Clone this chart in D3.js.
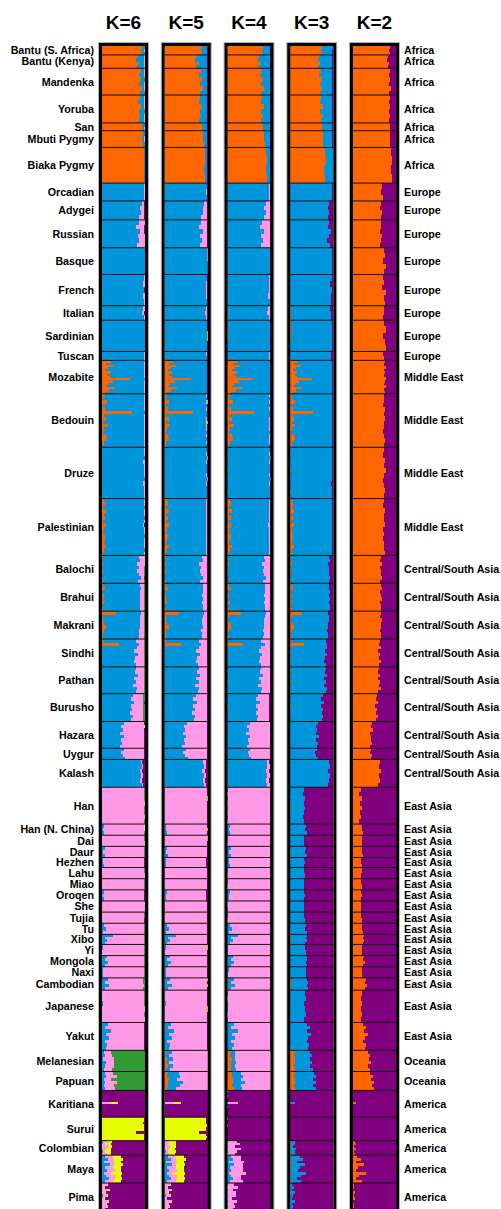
<!DOCTYPE html>
<html>
<head>
<meta charset="utf-8">
<script src="https://cdn.jsdelivr.net/npm/d3@7"></script>
<style>
  html, body { margin: 0; padding: 0; background: #fff; }
  svg { display: block; }
  text { font-family: "Liberation Sans", Arial, Helvetica, sans-serif; font-weight: bold; fill: #000; }
</style>
</head>
<body>
<svg id="chart" width="501" height="1209"></svg>
<script>
// ---- Column headings ----
const kLabels = ["K=6", "K=5", "K=4", "K=3", "K=2"];

// ---- Populations (top to bottom), their regions and sample sizes ----
const populations = [
  "Bantu (S. Africa)", "Bantu (Kenya)", "Mandenka", "Yoruba", "San", "Mbuti Pygmy", "Biaka Pygmy",
  "Orcadian", "Adygei", "Russian", "Basque", "French", "Italian", "Sardinian", "Tuscan",
  "Mozabite", "Bedouin", "Druze", "Palestinian",
  "Balochi", "Brahui", "Makrani", "Sindhi", "Pathan", "Burusho", "Hazara", "Uygur", "Kalash",
  "Han", "Han (N. China)", "Dai", "Daur", "Hezhen", "Lahu", "Miao", "Oroqen", "She", "Tujia",
  "Tu", "Xibo", "Yi", "Mongola", "Naxi", "Cambodian", "Japanese", "Yakut",
  "Melanesian", "Papuan",
  "Karitiana", "Surui", "Colombian", "Maya", "Pima"
];
const regions = [
  "Africa", "Africa", "Africa", "Africa", "Africa", "Africa", "Africa",
  "Europe", "Europe", "Europe", "Europe", "Europe", "Europe", "Europe", "Europe",
  "Middle East", "Middle East", "Middle East", "Middle East",
  "Central/South Asia", "Central/South Asia", "Central/South Asia", "Central/South Asia", "Central/South Asia",
  "Central/South Asia", "Central/South Asia", "Central/South Asia", "Central/South Asia",
  "East Asia", "East Asia", "East Asia", "East Asia", "East Asia", "East Asia", "East Asia", "East Asia", "East Asia", "East Asia",
  "East Asia", "East Asia", "East Asia", "East Asia", "East Asia", "East Asia", "East Asia", "East Asia",
  "Oceania", "Oceania",
  "America", "America", "America", "America", "America"
];
const sampleSizes = [
  8, 12, 24, 25, 7, 15, 32,
  16, 17, 25, 24, 28, 13, 28, 8,
  30, 48, 46, 51,
  25, 25, 25, 25, 24, 25, 24, 10, 25,
  33, 10, 10, 10, 9, 10, 10, 10, 10, 10,
  10, 9, 10, 10, 10, 11, 29, 25,
  19, 17,
  24, 21, 13, 25, 25
];

// ---- Cluster colours, in stacking order (left to right) ----
const ORANGE = "#ff6600", BLUE = "#0096dc", PINK = "#ff99e6",
      GREEN = "#339933", YELLOW = "#e5ff00", PURPLE = "#800080";
const k6Colors = [ORANGE, BLUE, PINK, GREEN, YELLOW, PURPLE];
const k5Colors = [ORANGE, BLUE, PINK, YELLOW, PURPLE];
const k4Colors = [ORANGE, BLUE, PINK, PURPLE];
const k3Colors = [ORANGE, BLUE, PURPLE];
const k2Colors = [ORANGE, PURPLE];

// ---- Ancestry rows (percent). Each row lists every cluster but the last;
//      the last cluster takes the remainder. Rows split a population evenly. ----
const k6Rows = [
  [[93,6,0.5,0,0],[91,7,1,0,0],[94,5,0.5,0,0]],
  [[84,14,1,0,0],[80,18,1,0,0],[87,11,1,0,0],[82,16,1,0,0]],
  [[90,8,1,0,0],[86,12,1,0,0],[91,6,1,1,0],[87,11,1,0,0],[92,6,1,0,0],[88,10,0,1,0]],
  [[88,10,1,0,0],[84,14,1,0,0],[90,8,1,0,0],[86,12,0,1,0],[89,9,1,0,0],[85,13,1,0,0]],
  [[92,5,1,1,0],[93,5,1,0,0]],
  [[95,4,0,0,0],[94,4,1,0,0],[96,3,0,0,0]],
  [[97,2,0,1,0],[98,1,0,0,0],[97,2,1,0,0],[98,1,0,0,0]],
  [[0,98,1,0,0],[0,97,2,0,0],[0,98,1,0,0]],
  [[0,92,6,0,0],[0,88,10,0,0],[0,90,8,0,0],[0,86,12,0,0]],
  [[0,85,14,0,0],[0,80,18,0,0],[0,88,10,0,0],[0,83,16,0,0],[0,87,12,0,0],[0,82,17,0,0]],
  [[0,99,0.5,0,0],[0,99.5,0,0,0]],
  [[0,98,1,0,0],[0,96,3,0,0],[0,97,1,0,0],[0,95,4,0,0],[0,98,1,0,0]],
  [[1,95,3,0,0],[0,93,5,0,0],[1,96,2,0,0]],
  [[1,98,0,0,0],[1,98,0,0,0.5],[0,99,0,0,0]],
  [[0,97,2,0,0],[0,98,1,0,0]],
  [[22,76,1,0,0],[10,88,1,0,0],[28,70,1,0,0],[15,83,1,0,0],[8,90,1,0,0],[20,78,1,0,0],[12,86,1,0,0],[18,80,1,0,0],
   [65,34,0,0,0],[25,73,1,0,0],[14,84,1,0,0],[9,89,1,0,0],[30,68,1,0,0],[16,82,1,0,0],[6,92,1,0,0]],
  [[6,91,2,0,0],[3,95,1,0,0],[12,85,2,0,0.5],[2,96,1,0,0],[8,89,2,0,0],[70,29,0,0,0],[4,94,1,0,0],[10,87,2,0,0],
   [3,94,2,0,0.5],[14,83,2,0,0],[5,92,2,0,0],[2,96,1,0,0],[9,88,2,0,0],[12,86,1,0,0],[4,93,2,0,0],[3,95,1,0,0]],
  [[0,98,1,0,0],[1,96,2,0,0],[0,99,0.5,0,0],[0,96,3,0,0],[0,98,1,0,0],[1,97,1,0,0],
   [0,97,2,0,0],[0,99,0.5,0,0],[0,96,3,0,0],[0,98,1,0,0],[1,97,1,0,0],[0,98,1,0,0]],
  [[5,92,2,0,0],[8,89,2,0,0],[3,94,1,1,0],[10,87,2,0,0],[4,93,2,0,0],[7,90,1,1,0],[2,95,2,0,0],[9,87,2,0,0.5],
   [5,92,2,0,0],[3,94,2,0,0],[8,89,1,1,0],[6,91,2,0,0],[4,93,2,0,0],[10,87,2,0,0],[5,92,1,1,0],[3,94,2,0,0]],
  [[2,85,12,0,0],[1,88,10,0,0],[3,78,18,0,0],[0,86,12,1,0],[2,80,16,1,0],[1,84,13,1,0],[0,90,8,0,0],[2,82,14,1,0]],
  [[3,86,9,1,0],[8,82,8,1,0],[1,88,9,1,0],[4,84,10,1,0],[2,86,10,1,0],[5,83,10,1,0],[1,87,10,1,0],[3,85,9,2,0]],
  [[33,58,7,1,0],[3,86,9,1,0],[2,87,9,1,0],[5,83,10,1,0],[9,80,9,1,0],[4,82,12,1,0],[2,85,11,1,0],[3,84,11,1,0]],
  [[2,78,17,2,0],[40,45,13,1,0],[1,80,16,2,0],[0,75,22,2,0],[1,82,14,2,0],[0,77,20,2,0],[1,73,23,2,0],[0,79,18,2,0]],
  [[0,80,17,2,0],[1,76,20,2,0],[0,83,14,2,0],[0,74,23,2,0],[1,79,17,2,0],[0,72,25,2,0],[0,81,16,2,0],[1,77,19,2,0]],
  [[0,72,24,3,0],[0,68,28,3,0],[0,75,21,2,0],[1,66,29,3,0],[0,70,26,3,0],[0,64,32,3,0],[0,71,25,3,0],[0,67,29,3,0]],
  [[0,52,45,1,0],[0,45,52,1,1],[0,48,49,1,0],[0,42,55,1,0],[0,50,47,1,0],[0,44,53,1,0],[0,47,50,1,0],[0,41,56,1,0]],
  [[0,50,47,1,0],[0,44,53,1,0],[0,48,49,1,0],[0,53,44,1,0]],
  [[0,90,4,0,0],[0,93,3,0,0],[0,88,5,0,0],[0,91,4,0,0],[0,89,3,0,0],[0,92,4,0,0]],
  [[0,1,97,1,0],[0,0,98,1,0],[0,1,97,1,0.5],[0,0,99,0,0],[0,1,97,1,0],[0,0,98,1,0],[0,1,98,0,0],[0,0,97,2,0]],
  [[0,4,93,1,1],[0,2,96,0,1],[0,5,93,1,0]],
  [[0,0,98,2,0],[0,1,98,1,0]],
  [[0,6,92,1,0],[0,3,95,1,0],[0,8,90,1,0]],
  [[0,3,94,0,0],[0,2,95,1,0],[0,4,93,0,0]],
  [[0,0,98,2,0],[0,1,98,1,0]],
  [[0,1,97,1,1],[0,0,98,1,0]],
  [[0,5,92,0,0],[0,3,94,1,0],[0,4,93,0,0]],
  [[0,0,99,1,0],[0,1,98,1,0]],
  [[0,1,97,1,0],[0,0,98,0,0]],
  [[0,5,93,1,0],[0,9,89,1,0],[0,3,95,1,0]],
  [[0,25,73,1,0],[0,8,90,1,0],[0,12,86,1,0],[0,6,92,1,0]],
  [[0,2,96,2,0],[0,1,97,1,0]],
  [[0,12,86,1,0],[0,6,92,1,0],[0,15,83,1,0],[0,8,90,1,0]],
  [[0,3,95,1,0],[0,2,96,1,0]],
  [[1,12,83,3,1],[0,6,90,3,0],[1,16,80,2,1],[0,8,88,3,0]],
  [[0,1,97,1,0],[0,0,98,1,0],[0,2,96,1,0],[0,1,98,0,0],[0,0,97,2,0],[0,1,98,0,0]],
  [[0,14,84,0,0],[0,8,90,0,0],[0,20,78,0,0],[0,10,88,0,0],[0,16,82,0,0],[0,6,92,0,0],[0,12,86,0,0],[0,9,89,0,0]],
  [[0,4,18,77,0],[0,8,15,76,0],[0,3,25,71,0],[0,10,18,71,0],[0,6,22,71,0],[0,4,20,75,0]],
  [[0,6,20,73,0],[0,10,25,64,0],[0,4,18,77,0],[0,8,28,63,0],[0,5,22,72,0],[0,7,24,68,0]],
  [[0,0,1,0,0],[0,0,0,0,0],[0,0,0.5,0,0],[0,0,0,0,0],[0,0,0,0,0],[0,0,19,0,19],
   [0,0,0,0,0],[0,0,0.5,0,0],[0,0,0,0,0],[0,0,0,0,0],[0,0,0,0,0],[0,0,0,0,0]],
  [[0,0,0,0,97],[0,0,0,0,98],[0,0,0,0,96],[0,0,0,0,98],[0,0,0,0,97],[0,0,0,0,98],[0,0,0,0,80],[0,0,0,0,97],[0,0,0,0,98],[0,0,0,0,97]],
  [[0,2,12,0,10],[0,0,8,0,14],[0,1,15,0,8],[0,0,10,0,12],[0,2,6,0,14],[0,0,12,0,10]],
  [[0,8,18,0,18],[0,15,12,0,22],[0,4,25,0,15],[0,18,10,0,20],[0,6,20,0,18],[0,12,18,0,14],[0,5,15,0,26],[0,10,22,0,12],[0,16,14,0,16],[0,6,20,0,18]],
  [[0,0,12,0,2],[0,1,6,0,1],[0,0,15,0,3],[0,0,8,0,1],[0,2,10,0,2],[0,0,5,0,1],[0,0,14,0,2],[0,1,9,0,1],[0,0,11,0,2],[0,0,7,0,1]]
];

const k5Rows = [
  [[87,11,1,0],[84,14,1,0],[86,12,1,0]],
  [[76,22,1,0],[70,28,1,0],[79,19,1,0],[73,25,1,0]],
  [[84,14,1,0],[80,18,1,0],[86,12,1,0],[82,16,1,0],[88,10,1,0],[81,17,1,0]],
  [[83,15,1,0],[79,19,1,0],[86,12,1,0],[81,17,1,0],[85,13,1,0],[80,18,1,0]],
  [[87,11,1,0],[86,12,1,0]],
  [[90,9,0,0],[89,9,1,0],[91,8,0,0]],
  [[93,6,0,0],[94,5,0,0],[92,7,0,0],[94,5,0,0]],
  [[0,98,1,0],[0,97,2,0],[0,98,1,0]],
  [[0,91,7,0],[0,88,10,0],[0,90,8,0],[0,85,13,0]],
  [[0,84,15,0],[0,80,18,0],[0,88,10,0],[0,82,17,0],[0,87,12,0],[0,81,18,0]],
  [[0,99,0.5,0],[0,99.5,0,0]],
  [[0,98,1,0],[0,96,3,0],[0,97,1,0],[0,95,4,0],[0,98,1,0]],
  [[1,95,3,0],[0,93,5,0],[1,96,2,0]],
  [[1,98,0,0],[1,98,0,0.5],[0,99,0,0]],
  [[0,97,2,0],[0,98,1,0]],
  [[20,78,1,0],[9,89,1,0],[26,72,1,0],[14,84,1,0],[7,91,1,0],[18,80,1,0],[11,87,1,0],[17,81,1,0],
   [62,37,0,0],[23,75,1,0],[13,85,1,0],[8,90,1,0],[28,70,1,0],[15,83,1,0],[5,93,1,0]],
  [[5,92,2,0],[3,95,1,0],[11,86,2,0.5],[2,96,1,0],[7,90,2,0],[65,34,0,0],[4,94,1,0],[9,88,2,0],
   [3,94,2,0.5],[13,84,2,0],[5,92,2,0],[2,96,1,0],[8,89,2,0],[11,87,1,0],[4,93,2,0],[3,95,1,0]],
  [[0,98,1,0],[1,96,2,0],[0,99,0.5,0],[0,96,3,0],[0,98,1,0],[1,97,1,0],
   [0,97,2,0],[0,99,0.5,0],[0,96,3,0],[0,98,1,0],[1,97,1,0],[0,98,1,0]],
  [[5,92,2,0],[8,89,2,0],[3,94,2,0],[10,87,2,0],[4,93,2,0],[7,90,2,0],[2,95,2,0],[9,87,2,0.5],
   [5,92,2,0],[3,94,2,0],[8,89,2,0],[6,91,2,0],[4,93,2,0],[10,87,2,0],[5,92,2,0],[3,94,2,0]],
  [[2,84,13,0],[1,87,11,0],[3,76,20,0],[0,85,13,0],[2,80,17,0],[1,84,14,0],[0,90,9,0],[2,81,16,0]],
  [[3,85,11,0],[8,81,10,0],[1,87,11,0],[4,83,12,0],[2,86,11,0],[5,82,12,0],[1,87,11,0],[3,85,11,0]],
  [[32,59,8,0],[3,85,11,0],[2,85,12,0],[5,81,13,0],[9,79,11,0],[4,80,15,0],[2,84,13,0],[3,83,13,0]],
  [[2,77,19,1],[38,47,14,0],[1,79,19,0],[0,73,25,1],[1,81,17,0],[0,75,23,1],[1,72,26,0],[0,78,20,1]],
  [[0,79,19,1],[1,75,22,1],[0,82,16,1],[0,73,25,1],[1,78,19,1],[0,71,27,1],[0,80,18,1],[1,76,21,1]],
  [[0,72,26,0],[0,66,32,0],[0,76,22,0],[1,64,33,0],[0,70,28,0],[0,63,35,0],[0,71,27,0],[0,67,31,0]],
  [[0,52,46,0.5],[0,45,53,1],[0,48,50,0.5],[0,42,56,0.5],[0,50,48,0.5],[0,44,54,0.5],[0,47,51,0.5],[0,41,57,0.5]],
  [[0,50,48,0],[0,43,55,0],[0,47,51,0],[0,53,45,0]],
  [[0,90,5,0],[0,92,4,0],[0,87,6,0],[0,91,4,0],[0,89,4,0],[0,92,4,0]],
  [[0,1,98,0],[0,0,99,0],[0,1,98,0.5],[0,0,99,0],[0,1,98,0],[0,0,99,0],[0,1,98,0],[0,0,98,0]],
  [[0,4,94,1],[0,2,97,0.5],[0,5,94,0]],
  [[0,0,99,0.5],[0,1,98,0]],
  [[0,6,93,0],[0,3,96,0],[0,8,91,0]],
  [[0,3,94,0],[0,2,95,0],[0,4,93,0]],
  [[0,0,99,0],[0,1,98,0]],
  [[0,1,97,1],[0,0,99,0]],
  [[0,5,92,0],[0,3,94,0],[0,4,93,0]],
  [[0,0,99,0],[0,1,98,0]],
  [[0,1,97,0],[0,0,99,0]],
  [[0,5,94,0],[0,9,90,0],[0,3,96,0]],
  [[0,25,74,0],[0,8,91,0],[0,12,87,0],[0,6,93,0]],
  [[0,2,97,0.5],[0,1,98,0]],
  [[0,12,87,0],[0,6,93,0],[0,15,84,0],[0,8,91,0]],
  [[0,3,96,0],[0,2,97,0]],
  [[1,12,86,0.5],[0,6,93,0],[1,16,82,0.5],[0,8,91,0]],
  [[0,1,98,0],[0,0,99,0],[0,2,97,0],[0,1,98,0.5],[0,0,99,0],[0,1,98,0]],
  [[0,15,84,0],[0,8,91,0],[0,22,77,0],[0,10,89,0],[0,17,82,0],[0,6,93,0],[0,13,86,0],[0,9,90,0]],
  [[4,12,84,0],[0,10,90,0],[6,14,80,0],[2,8,90,0],[8,12,80,0],[3,10,87,0]],
  [[8,25,67,0],[6,30,64,0],[9,20,71,0],[7,35,58,0],[8,28,64,0],[5,22,73,0]],
  [[0,0,1,0],[0,0,0,0],[0,0,0.5,0],[0,0,0,0],[0,0,0,0],[0,0,19,19],
   [0,0,0,0],[0,0,0.5,0],[0,0,0,0],[0,0,0,0],[0,0,0,0],[0,0,0,0]],
  [[0,0,0,96],[0,0,0,97],[0,0,0,96],[0,0,0,98],[0,0,0,97],[0,0,0,97],[0,0,0,80],[0,0,0,96],[0,0,0,98],[0,0,0,97]],
  [[0,1,10,14],[0,0,8,18],[0,1,12,12],[0,0,9,15],[0,2,6,18],[0,0,10,13]],
  [[0,7,17,20],[0,14,11,24],[0,4,24,17],[0,16,10,22],[0,6,19,19],[0,11,17,16],[0,5,14,27],[0,9,21,14],[0,15,13,18],[0,6,19,20]],
  [[0,0,12,2],[0,1,6,1],[0,0,15,3],[0,0,8,1],[0,2,10,2],[0,0,5,1],[0,0,14,2],[0,1,9,1],[0,0,11,2],[0,0,7,1]]
];

const k4Rows = [
  [[83,15,1],[80,18,1],[82,16,1]],
  [[74,24,1],[70,28,1],[77,21,1],[72,26,1]],
  [[80,18,1],[76,22,1],[83,15,1],[78,20,1],[85,13,1],[77,21,1]],
  [[80,18,1],[78,20,1],[84,14,1],[79,19,1],[83,15,1],[78,20,1]],
  [[82,16,1],[83,15,1]],
  [[86,13,0.5],[85,13,1],[87,12,0.5]],
  [[90,9,0.5],[91,8,0.5],[89,10,0.5],[91,8,0.5]],
  [[0,97,2],[0,96,3],[0,97,2]],
  [[0,90,8],[0,86,12],[0,89,9],[0,85,13]],
  [[0,80,18],[0,76,22],[0,85,13],[0,78,20],[0,83,15],[0,77,21]],
  [[0,99,0.5],[0,99.5,0]],
  [[0,97,2],[0,96,3],[0,97,2],[0,95,4],[0,98,1]],
  [[1,94,4],[0,93,6],[1,95,3]],
  [[1,98,0.5],[1,98,0.5],[0,99,0.5]],
  [[0,96,3],[0,97,2]],
  [[24,74,1],[12,86,1],[30,68,1],[18,80,1],[10,88,1],[22,76,1],[14,84,1],[20,78,1],
   [60,39,0.5],[27,71,1],[16,82,1],[11,87,1],[33,65,1],[19,79,1],[8,90,1]],
  [[6,91,2],[4,94,1],[13,84,2],[3,95,1],[8,89,2],[62,37,0.5],[5,93,1],[11,86,2],
   [4,93,2],[15,82,2],[6,91,2],[3,95,1],[10,87,2],[13,84,2],[5,92,2],[4,94,1]],
  [[0,98,1.5],[1,96,2],[0,99,1],[0,96,3],[0,98,1.5],[1,97,1.5],
   [0,97,2],[0,99,1],[0,96,3],[0,98,1.5],[1,97,1.5],[0,98,1.5]],
  [[5,91,3],[8,88,3],[3,93,3],[10,86,3],[4,92,3],[7,89,3],[2,94,3],[9,86,4],
   [5,91,3],[3,93,3],[8,88,3],[6,90,3],[4,92,3],[10,86,3],[5,91,3],[3,93,3]],
  [[2,84,13],[1,86,12],[3,78,17],[0,85,14],[2,80,16],[1,83,15],[0,89,10],[2,81,16]],
  [[3,84,12],[8,80,11],[1,86,12],[4,82,13],[2,85,12],[5,81,13],[1,86,12],[3,84,12]],
  [[31,58,10],[3,84,12],[2,84,13],[5,80,14],[9,76,14],[4,79,16],[2,82,15],[3,80,16]],
  [[2,76,20],[37,50,12],[1,78,19],[0,74,24],[1,80,17],[0,76,22],[1,72,25],[0,78,20]],
  [[0,79,19],[1,75,22],[0,82,16],[0,74,24],[1,78,19],[0,72,26],[0,80,18],[1,76,21]],
  [[0,71,26],[0,67,30],[0,75,22],[1,65,31],[0,70,27],[0,66,31],[0,72,25],[0,68,29]],
  [[0,53,45],[0,46,52],[0,50,48],[0,44,54],[0,52,46],[0,47,51],[0,49,49],[0,45,53]],
  [[0,52,46],[0,47,51],[0,50,48],[0,54,44]],
  [[0,91,6],[0,93,5],[0,89,8],[0,92,6],[0,90,7],[0,93,5]],
  [[0,1,98],[0,0,99],[0,1,98],[0,0,99],[0,1,98],[0,0,99],[0,1,98],[0,0,99]],
  [[0,5,94],[0,3,96],[0,6,93]],
  [[0,1,98],[0,0,99]],
  [[0,7,92],[0,4,95],[0,9,90]],
  [[0,4,94],[0,3,95],[0,5,93]],
  [[0,1,98],[0,0,99]],
  [[0,1,98],[0,0,99]],
  [[0,5,93],[0,3,95],[0,4,94]],
  [[0,0,99],[0,1,98]],
  [[0,1,98],[0,0,99]],
  [[0,6,93],[0,10,89],[0,4,95]],
  [[0,25,74],[0,8,91],[0,13,86],[0,6,93]],
  [[0,2,97],[0,1,98]],
  [[0,13,86],[0,7,92],[0,16,83],[0,9,90]],
  [[0,3,96],[0,2,97]],
  [[1,13,85],[0,7,92],[1,17,81],[0,9,90]],
  [[0,1,98],[0,0,99],[0,2,97],[0,1,98],[0,0,99],[0,1,98]],
  [[0,16,83],[0,9,90],[0,24,75],[0,11,88],[0,18,81],[0,7,92],[0,14,85],[0,10,89]],
  [[8,10,82],[6,12,82],[10,8,82],[7,13,80],[9,9,82],[8,11,81]],
  [[11,20,69],[10,25,65],[13,18,69],[12,28,60],[10,22,68],[14,20,66]],
  [[0,0,1],[0,0,0],[0,0,0.5],[0,0,0],[0,0,0],[0,0,24],[0,0,0],[0,0,0.5],[0,0,0],[0,0,0],[0,0,0],[0,0,0]],
  [[0,0,0.5],[0,0,0],[0,0,0],[0,0,0.5],[0,0,0],[0,0,0],[0,0,0],[0,0,0],[0,0,0],[0,0,0]],
  [[0,1,20],[0,0,28],[0,2,15],[0,0,32],[0,1,22],[0,0,18]],
  [[1,6,25],[0,12,20],[0,4,35],[0,14,22],[0,5,30],[1,8,28],[0,4,40],[0,7,25],[0,12,20],[0,5,32]],
  [[0,1,15],[0,0,25],[0,1,12],[0,0,20],[0,2,18],[0,0,10],[0,1,22],[0,0,14],[0,1,17],[0,0,12]]
];

const k3Rows = [
  [[74,25],[71,27],[73,25]],
  [[67,31],[64,34],[69,29],[65,33]],
  [[71,27],[68,30],[73,25],[69,29],[74,24],[70,28]],
  [[72,26],[69,29],[75,23],[70,28],[76,22],[71,27]],
  [[73,25],[74,24]],
  [[76,22],[75,23],[77,21]],
  [[80,19],[82,17],[79,20],[81,18]],
  [[0,97],[0,96],[0,97]],
  [[0,90],[0,87],[0,91],[0,88]],
  [[0,91],[0,88],[0,94],[0,90],[0,86],[0,93]],
  [[0,97],[0,96],[0,98]],
  [[0,96],[0,93],[0,97],[0,95],[0,94]],
  [[1,92],[0,94],[1,93]],
  [[1,96],[1,97],[0,96]],
  [[0,94],[0,95]],
  [[18,79],[9,88],[24,73],[13,84],[7,90],[16,81],[10,87],[15,82],[50,48],[21,76],[12,85],[8,89],[26,71],[14,83],[6,91]],
  [[5,91],[3,94],[10,86],[2,95],[7,89],[52,46],[4,93],[9,87],[3,93],[12,84],[5,91],[2,95],[8,88],[10,86],[4,92],[3,94]],
  [[0,97],[1,95],[0,98],[0,96],[0,97],[1,96],[0,96],[0,98],[0,95],[0,97],[1,96],[0,97]],
  [[5,91],[7,89],[3,93],[9,87],[4,92],[6,90],[2,94],[8,88],[5,91],[3,93],[7,89],[5,91],[4,92],[9,87],[5,91],[3,93]],
  [[2,89],[1,92],[3,85],[0,91],[2,87],[1,90],[0,93],[2,88]],
  [[3,88],[7,84],[1,91],[4,87],[2,90],[5,86],[1,92],[3,89]],
  [[28,60],[3,86],[2,87],[5,83],[8,80],[4,82],[2,86],[3,84]],
  [[2,82],[33,52],[1,84],[0,80],[1,85],[0,81],[1,78],[0,83]],
  [[0,84],[1,80],[0,86],[0,79],[1,83],[0,78],[0,85],[1,81]],
  [[0,76],[0,72],[0,78],[1,71],[0,75],[0,73],[0,77],[0,74]],
  [[0,65],[0,60],[0,63],[0,59],[0,66],[0,61],[0,64],[0,62]],
  [[0,62],[0,58],[0,61],[0,64]],
  [[0,91],[0,93],[0,88],[0,92],[0,90],[0,87]],
  [[0,33],[0,30],[0,35],[0,31],[1,34],[0,32],[0,29],[0,33]],
  [[0,37],[0,34],[0,38]],
  [[0,33],[0,31]],
  [[0,37],[0,35],[1,39]],
  [[0,33],[0,35],[0,32]],
  [[0,33],[0,35]],
  [[0,33],[0,31]],
  [[0,33],[0,34],[0,32]],
  [[0,32],[0,31]],
  [[0,33],[0,34]],
  [[0,37],[0,35],[0,38]],
  [[1,38],[0,36],[1,37],[0,35]],
  [[0,35],[0,36]],
  [[0,38],[0,40],[0,36],[0,38]],
  [[0,36],[0,37]],
  [[2,38],[1,40],[2,36],[1,41]],
  [[0,34],[0,36],[0,33],[0,35],[0,37],[0,33]],
  [[0,40],[0,45],[0,38],[0,48],[0,42],[0,39],[0,44],[0,41]],
  [[10,36],[9,42],[11,34],[10,40],[9,38],[10,44]],
  [[10,46],[9,52],[11,42],[10,50],[9,44],[12,48]],
  [[0,0.5],[0,0],[0,0],[0,0],[0,0],[0,12],[0,0],[0,0.5],[0,0],[0,0],[0,0],[0,0]],
  [[0,0],[0,0],[0,0],[0,0]],
  [[2,8],[0,12],[1,6],[0,14],[1,9],[0,10]],
  [[2,20],[1,28],[0,15],[2,32],[1,22],[0,18],[2,35],[1,25],[0,16],[1,24]],
  [[0,5],[0,8],[0,4],[1,9],[0,6],[0,5],[0,10],[0,4],[0,7],[0,5]]
];

const k2Rows = [
  [[85],[83],[86]],
  [[82],[80],[84],[81]],
  [[85],[83],[87],[84],[88],[84]],
  [[85],[83],[87],[84],[86],[83]],
  [[85],[86]],
  [[86],[87],[85]],
  [[89],[91],[88],[90]],
  [[68],[66],[70]],
  [[66],[63],[68],[65]],
  [[64],[66],[62],[68],[65],[63]],
  [[72],[75],[70],[77],[73]],
  [[70],[73],[68],[76],[71],[74]],
  [[71],[73],[70]],
  [[72],[76],[70],[74],[77]],
  [[69],[71]],
  [[74],[72],[76],[73],[75],[71],[77],[74],[73],[76],[72],[75]],
  [[71],[73],[70],[74],[72],[75],[71],[73],[70],[72],[74],[71]],
  [[72],[70],[75],[71],[76],[73],[70],[72],[74],[71]],
  [[72],[70],[74],[71],[73],[75],[70],[72],[69],[73],[71],[74]],
  [[65],[62],[67],[63],[66],[64],[68],[62]],
  [[64],[67],[62],[65],[68],[63],[66],[64]],
  [[66],[63],[67],[64],[65],[62],[66],[64]],
  [[62],[60],[64],[59],[63],[61],[65],[60]],
  [[61],[59],[63],[58],[62],[60],[64],[59]],
  [[56],[53],[58],[52],[55],[54],[57],[53]],
  [[44],[41],[46],[40],[43],[42],[45],[39]],
  [[42],[39],[44],[41]],
  [[62],[60],[64],[61],[63],[59]],
  [[18],[15],[20],[16],[22],[17],[19],[15]],
  [[22],[20],[23]],
  [[20],[22]],
  [[22],[20],[24]],
  [[19],[18],[20]],
  [[21],[19]],
  [[18],[20]],
  [[19],[20],[18]],
  [[18],[19]],
  [[19],[20]],
  [[22],[21],[23]],
  [[26],[24],[25],[23]],
  [[22],[21]],
  [[25],[23],[27],[24]],
  [[22],[21]],
  [[30],[28],[32],[29]],
  [[20],[18],[22],[19],[21],[18]],
  [[24],[30],[26],[35],[28],[23],[31],[27]],
  [[36],[40],[38],[42],[35],[39]],
  [[40],[46],[42],[50],[44],[48]],
  [[0],[1],[0],[0],[1],[6],[0],[0],[1],[0],[0],[0]],
  [[0],[0]],
  [[4],[6],[2],[8],[3],[5]],
  [[10],[18],[6],[25],[12],[8],[30],[15],[7],[20]],
  [[2],[3],[1],[4],[2],[5],[1],[3],[2],[1]]
];

// ---- Layout ----
const svg = d3.select("#chart");
const plotTop = 46;              // top of the coloured area
const pxPerIndividual = 1.1147;  // vertical space per sampled individual
const frame = 4;                 // gap between band edge and coloured area (border)

const starts = Array.from(d3.cumsum([0, ...sampleSizes]));
const totalN = d3.sum(sampleSizes);
const y = d3.scaleLinear().domain([0, totalN]).range([plotTop, plotTop + totalN * pxPerIndividual]);
const col = d3.scaleBand().domain(kLabels).range([98, 400]).paddingInner(0.187).paddingOuter(0);

const panels = [
  { label: "K=6", rows: k6Rows, colors: k6Colors },
  { label: "K=5", rows: k5Rows, colors: k5Colors },
  { label: "K=4", rows: k4Rows, colors: k4Colors },
  { label: "K=3", rows: k3Rows, colors: k3Colors },
  { label: "K=2", rows: k2Rows, colors: k2Colors }
];

panels.forEach(panel => {
  const bx = col(panel.label);
  const x0 = bx + frame, x1 = bx + col.bandwidth() - frame;
  const x = d3.scaleLinear().domain([0, 100]).range([x0, x1]);
  const g = svg.append("g").attr("class", "panel");
  const bars = g.append("g").attr("shape-rendering", "crispEdges");

  // stacked ancestry bars, one block per row of individuals
  populations.forEach((pop, pi) => {
    const rows = panel.rows[pi];
    const n = sampleSizes[pi];
    rows.forEach((r, ri) => {
      const a = starts[pi] + ri * n / rows.length;
      const b = starts[pi] + (ri + 1) * n / rows.length;
      const full = panel.colors.map((c, ci) => ci < panel.colors.length - 1 ? (r[ci] || 0) : 0);
      full[full.length - 1] = Math.max(0, 100 - d3.sum(full));
      let acc = 0;
      full.forEach((v, ci) => {
        if (v > 0) {
          bars.append("rect")
            .attr("x", x(acc))
            .attr("y", y(a))
            .attr("width", x(acc + v) - x(acc))
            .attr("height", y(b) - y(a))
            .attr("fill", panel.colors[ci]);
        }
        acc += v;
      });
    });
  });

  // population separators
  g.selectAll("line.sep")
    .data(starts.slice(1, populations.length))
    .join("line")
    .attr("class", "sep")
    .attr("x1", x0).attr("x2", x1)
    .attr("y1", d => y(d)).attr("y2", d => y(d))
    .attr("stroke", "#111")
    .attr("stroke-width", 1);

  const bottom = y(totalN) + 6;
  // black frame with a light grey rim
  g.append("rect")
    .attr("x", x0 - 3.5).attr("y", plotTop - 3.5)
    .attr("width", x1 - x0 + 7).attr("height", bottom - plotTop + 7)
    .attr("fill", "none").attr("stroke", "#b4b4b4").attr("stroke-width", 1);
  g.append("rect")
    .attr("x", x0 - 1.5).attr("y", plotTop - 1.5)
    .attr("width", x1 - x0 + 3).attr("height", bottom - plotTop + 3)
    .attr("fill", "none").attr("stroke", "#000").attr("stroke-width", 3);

  // heading
  svg.append("text")
    .attr("x", bx + col.bandwidth() / 2)
    .attr("y", 29.3)
    .attr("text-anchor", "middle")
    .style("font-size", "19px")
    .text(panel.label);
});

// population names (left) and regions (right)
const mid = i => y(starts[i] + sampleSizes[i] / 2);
svg.append("g").selectAll("text")
  .data(populations)
  .join("text")
  .attr("x", 94)
  .attr("y", (d, i) => mid(i))
  .attr("dy", "0.36em")
  .attr("text-anchor", "end")
  .style("font-size", "10.7px")
  .text(d => d);

svg.append("g").selectAll("text")
  .data(regions)
  .join("text")
  .attr("x", 404)
  .attr("y", (d, i) => mid(i))
  .attr("dy", "0.36em")
  .attr("text-anchor", "start")
  .style("font-size", "10.7px")
  .text(d => d);
</script>
</body>
</html>
